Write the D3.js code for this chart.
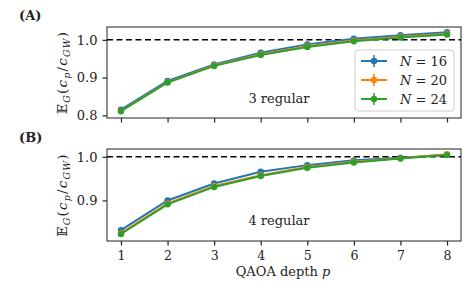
<!DOCTYPE html>
<html>
<head>
<meta charset="utf-8">
<script src="https://cdn.jsdelivr.net/npm/d3@7"></script>
<style>
body { margin: 0; background: #fff; }
text { font-family: "DejaVu Serif", "Liberation Serif", serif; fill: #222; }
</style>
</head>
<body>
<div id="chart"></div>
<script>
const depths = [1, 2, 3, 4, 5, 6, 7, 8];
const seriesNames = ["N = 16", "N = 20", "N = 24"];
const colors = ["#1f77b4", "#ff7f0e", "#2ca02c"];

// panel A: 3 regular
const a16 = [0.815, 0.891, 0.935, 0.966, 0.988, 1.003, 1.012, 1.020];
const a20 = [0.812, 0.888, 0.932, 0.962, 0.983, 0.998, 1.008, 1.016];
const a24 = [0.811, 0.887, 0.931, 0.960, 0.981, 0.996, 1.006, 1.014];
// panel B: 4 regular
const b16 = [0.832, 0.900, 0.939, 0.966, 0.981, 0.992, 0.998, 1.005];
const b20 = [0.825, 0.893, 0.933, 0.958, 0.977, 0.989, 0.997, 1.006];
const b24 = [0.823, 0.891, 0.931, 0.956, 0.975, 0.987, 0.996, 1.004];

const ticksA = [0.8, 0.9, 1.0];
const ticksB = [0.9, 1.0];

const width = 476, height = 295;
const svg = d3.select("#chart").append("svg")
    .attr("width", width).attr("height", height);

const x = d3.scaleLinear().domain([0.7, 8.3]).range([107, 461]);

const panels = [
    { label: "(A)", data: [a16, a20, a24], ticks: ticksA, domain: [0.793, 1.034], top: 27, bottom: 118, note: "3 regular", noteY: 103, legend: true },
    { label: "(B)", data: [b16, b20, b24], ticks: ticksB, domain: [0.807, 1.018], top: 149, bottom: 241, note: "4 regular", noteY: 225, legend: false }
];

panels.forEach(p => {
    const y = d3.scaleLinear().domain(p.domain).range([p.bottom, p.top]);
    const g = svg.append("g");

    // reference line at 1
    g.append("line")
        .attr("x1", 107).attr("x2", 461)
        .attr("y1", y(1)).attr("y2", y(1))
        .attr("stroke", "#000").attr("stroke-width", 1.5)
        .attr("stroke-dasharray", "6,3.5");

    const line = d3.line().x((d, i) => x(depths[i])).y(d => y(d));
    p.data.forEach((vals, k) => {
        g.append("path").datum(vals)
            .attr("d", line).attr("fill", "none")
            .attr("stroke", colors[k]).attr("stroke-width", 2);
        g.selectAll(null).data(vals).enter().append("circle")
            .attr("cx", (d, i) => x(depths[i])).attr("cy", d => y(d))
            .attr("r", 3.2).attr("fill", colors[k]);
    });

    // frame
    g.append("rect").attr("x", 107).attr("y", p.top)
        .attr("width", 354).attr("height", p.bottom - p.top)
        .attr("fill", "none").attr("stroke", "#222").attr("stroke-width", 1);

    // y axis
    const ya = g.append("g").attr("transform", "translate(107,0)")
        .call(d3.axisLeft(y).tickValues(p.ticks).tickFormat(d3.format(".1f")).tickSize(4.5).tickPadding(5));
    ya.select(".domain").remove();
    ya.selectAll("line").attr("stroke", "#222").attr("stroke-width", 1.2);
    ya.selectAll("text").attr("font-size", 13).style("font-family", '"DejaVu Serif", serif').attr("fill", "#333");

    // x axis ticks
    const xa = g.append("g").attr("transform", `translate(0,${p.bottom})`)
        .call(d3.axisBottom(x).tickValues(depths).tickSize(4.5).tickPadding(6)
            .tickFormat(p.legend ? "" : d3.format("d")));
    xa.select(".domain").remove();
    xa.selectAll("line").attr("stroke", "#222").attr("stroke-width", 1.2);
    xa.selectAll("text").attr("font-size", 12.5).style("font-family", '"DejaVu Serif", serif').attr("fill", "#333");

    // panel label
    svg.append("text").attr("x", 19).attr("y", p.top - 7)
        .attr("font-size", 13).attr("font-weight", "bold").text(p.label);

    // y label
    const cy = (p.top + p.bottom) / 2;
    const yl = svg.append("text")
        .attr("transform", `translate(67,${cy}) rotate(-90)`)
        .attr("text-anchor", "middle").attr("font-size", 13.5)
        .attr("letter-spacing", 1.2).attr("fill", "#333");
    yl.append("tspan").text("𝔼");
    yl.append("tspan").attr("font-size", 9.5).attr("font-style", "italic").attr("dy", 3).text("G");
    yl.append("tspan").attr("dy", -3).text("(");
    yl.append("tspan").attr("font-style", "italic").text("c");
    yl.append("tspan").attr("font-size", 9.5).attr("font-style", "italic").attr("dy", 3).text("p");
    yl.append("tspan").attr("dy", -3).text("/");
    yl.append("tspan").attr("font-style", "italic").text("c");
    yl.append("tspan").attr("font-size", 9.5).attr("font-style", "italic").attr("dy", 3).text("GW");
    yl.append("tspan").attr("dy", -3).text(")");

    // annotation
    svg.append("text").attr("x", 279).attr("y", p.noteY)
        .attr("text-anchor", "middle").attr("font-size", 13).attr("fill", "#333").text(p.note);

    if (p.legend) {
        const lg = svg.append("g");
        lg.append("rect").attr("x", 355).attr("y", 50).attr("width", 99).attr("height", 61)
            .attr("rx", 3).attr("fill", "#fff").attr("fill-opacity", 0.85)
            .attr("stroke", "#ccc").attr("stroke-width", 1);
        seriesNames.forEach((name, k) => {
            const ly = 61 + k * 19;
            lg.append("line").attr("x1", 361).attr("x2", 387).attr("y1", ly).attr("y2", ly)
                .attr("stroke", colors[k]).attr("stroke-width", 2);
            lg.append("line").attr("x1", 374).attr("x2", 374).attr("y1", ly - 6).attr("y2", ly + 6)
                .attr("stroke", colors[k]).attr("stroke-width", 1.5);
            lg.append("circle").attr("cx", 374).attr("cy", ly).attr("r", 3.2).attr("fill", colors[k]);
            const t = lg.append("text").attr("x", 400).attr("y", ly + 4.5).attr("font-size", 13).attr("fill", "#333");
            t.append("tspan").attr("font-style", "italic").text("N");
            t.append("tspan").text(" = " + name.split(" = ")[1]);
        });
    }
});

// x label
const xl = svg.append("text").attr("x", 283).attr("y", 276)
    .attr("text-anchor", "middle").attr("font-size", 13).attr("fill", "#333");
xl.append("tspan").text("QAOA depth ");
xl.append("tspan").attr("font-style", "italic").text("p");
</script>
</body>
</html>
